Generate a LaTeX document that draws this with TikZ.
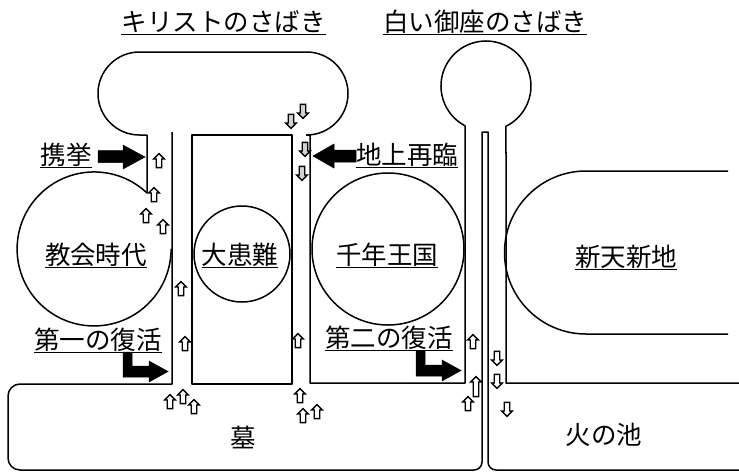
\documentclass[tikz,border=0pt]{standalone}
\usepackage{fontspec}
\setmainfont{Noto Sans CJK JP}
\usetikzlibrary{shapes.arrows}
\tikzset{
  outline/.style={line width=1.5pt, line join=round},
  lbl/.style={inner sep=0pt, anchor=base, font=\fontsize{25.5}{26}\selectfont},
  uline/.style={line width=1.1pt},
  sarrow/.style={single arrow, draw=black, line width=1.3pt, minimum height=14pt,
    inner sep=2.1pt, single arrow head extend=2.6pt, single arrow head indent=0pt},
  uparr/.style={sarrow, fill=white, rotate=90},
  tallup/.style={uparr, minimum height=20pt},
  dnarr/.style={sarrow, fill=gray!35, rotate=-90},
  dnarrw/.style={sarrow, fill=white, rotate=-90},
  bigarrow/.style={fill=black, draw=black, line width=0.5pt, line join=miter},
}
\begin{document}
\begin{tikzpicture}[x=1pt,y=1pt]
\useasboundingbox (0,0) rectangle (739,-472);
\fill[white] (0,0) rectangle (739,-472);

% main outline: judgment (Christ) + millennium walls + white throne + new heaven wall
\draw[outline] (147,-193) -- (147,-135) -- (139.5,-135)
  arc[start angle=270, end angle=90, radius=41.5] -- (306.5,-52)
  arc[start angle=90, end angle=-90, radius=41.5] -- (310,-135) -- (310,-383)
  -- (465,-383) -- (465,-125.8)
  arc[start angle=242.2, end angle=-63.6, radius=45] -- (506,-383) -- (739,-383);

% church age circle (open near the neck)
\draw[outline] (147,-193) arc[start angle=46.6, end angle=360, radius=77];

% tomb + thin channel + lake of fire
\draw[outline] (172,-132) -- (172,-384) -- (20,-384)
  arc[start angle=90, end angle=180, radius=12] -- (8,-458)
  arc[start angle=180, end angle=270, radius=12] -- (474,-470)
  arc[start angle=270, end angle=360, radius=8] -- (482,-132) -- (488,-132) -- (488,-462)
  arc[start angle=180, end angle=270, radius=8] -- (739,-470);

% great tribulation
\draw[outline] (192,-135) rectangle (292,-384);
\draw[outline] (242,-254) circle[radius=48];

% millennium circle
\draw[outline] (388,-249) circle[radius=76];

% new heaven and new earth
\draw[outline] (728,-171) -- (586,-171) arc[start angle=90, end angle=270, radius=81.5] -- (728,-334);

% big black arrows
\draw[bigarrow] (98,-150.5) -- (123,-150.5) -- (123,-145) -- (145,-157) -- (123,-169) -- (123,-162.5) -- (98,-162.5) -- cycle;
\draw[bigarrow] (356,-150) -- (334,-150) -- (334,-144) -- (313,-156) -- (334,-168) -- (334,-162) -- (356,-162) -- cycle;
\draw[bigarrow] (123,-352) -- (132,-352) -- (132,-366) -- (149,-366) -- (149,-361) -- (168,-371.5) -- (149,-382) -- (149,-377) -- (123,-377) -- cycle;
\draw[bigarrow] (416,-351) -- (425,-351) -- (425,-365) -- (442,-365) -- (442,-360) -- (461,-370.5) -- (442,-381) -- (442,-376) -- (416,-376) -- cycle;

% small arrows up
\node[uparr] (a1) at (159,-162) {};
\node[uparr] (a2) at (154,-196) {};
\node[uparr] (a3) at (146,-217) {};
\node[uparr] (a4) at (163,-228) {};
\node[uparr] (a5) at (181,-290) {};
\node[uparr] (a6) at (185,-345) {};
\node[uparr] (a7) at (170,-403) {};
\node[uparr] (a8) at (183,-398) {};
\node[uparr] (a9) at (194,-408) {};
\node[uparr] (a10) at (298,-342) {};
\node[uparr] (a11) at (300,-397) {};
\node[uparr] (a12) at (303,-417) {};
\node[uparr] (a13) at (317,-413) {};
\node[uparr] (a14) at (473,-343) {};
\node[tallup] (a15) at (476,-388) {};
\node[uparr] (a16) at (468,-405) {};
% small arrows down
\node[dnarr] (d1) at (291,-120) {};
\node[dnarr] (d2) at (303,-110) {};
\node[dnarr] (d3) at (305,-148) {};
\node[dnarr] (d4) at (302,-172) {};
\node[dnarrw] (d5) at (497,-357) {};
\node[dnarrw] (d6) at (497,-380) {};
\node[dnarrw] (d7) at (507,-408) {};

% labels
\node[lbl] (t1) at (223.5,-31) {キリストのさばき};
\node[lbl] (t2) at (485,-31) {白い御座のさばき};
\node[lbl] (t3) at (66,-164) {携挙};
\node[lbl] (t4) at (407,-164) {地上再臨};
\node[lbl] (t5) at (96,-264) {教会時代};
\node[lbl] (t6) at (240,-264) {大患難};
\node[lbl] (t7) at (387,-264) {千年王国};
\node[lbl] (t8) at (626,-266) {新天新地};
\node[lbl] (t9) at (98,-349) {第一の復活};
\node[lbl] (t10) at (389,-347) {第二の復活};
\node[lbl] (t11) at (243,-447) {墓};
\node[lbl] (t12) at (604,-444) {火の池};

\foreach \n in {t1,t2,t3,t4,t5,t6,t7,t8,t9,t10}{
  \draw[uline] ([yshift=-3.5pt]\n.base west) -- ([yshift=-3.5pt]\n.base east);
}
\end{tikzpicture}
\end{document}
